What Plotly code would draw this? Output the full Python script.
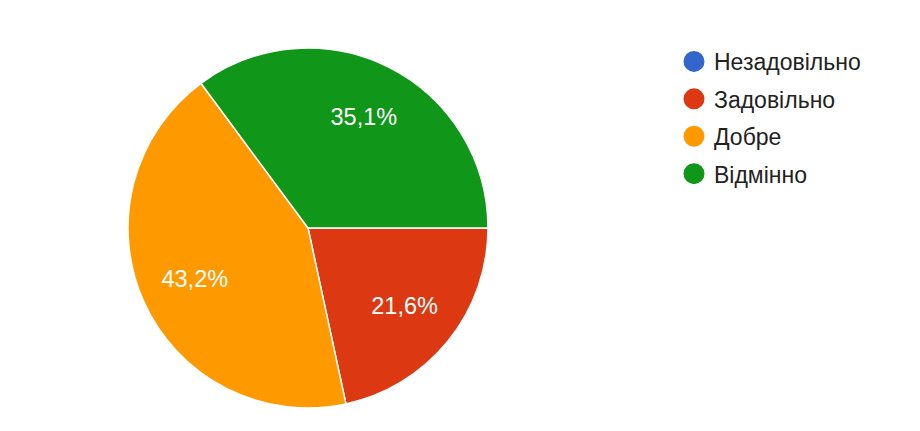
import plotly.graph_objects as go

categories = ["Незадовільно", "Задовільно", "Добре", "Відмінно"]
counts = [0, 8, 16, 13]
colors = ["#3366cc", "#dc3912", "#ff9900", "#109618"]

total = sum(counts)
labels_txt = [("%.1f%%" % (c / total * 100)).replace(".", ",") for c in counts]

W, H = 920, 431
FONT = "Arial, 'Liberation Sans', sans-serif"
dom = dict(x=[120 / W, 480 / W], y=[(H - 400) / H, (H - 40) / H])

fig = go.Figure()
fig.add_trace(go.Pie(
    labels=categories, values=counts,
    textinfo="none",
    marker=dict(colors=colors, line=dict(color="white", width=1.5)),
    sort=False, direction="clockwise", rotation=90,
    showlegend=False, hoverinfo="label+percent", domain=dom,
))
# label layer: transparent donut so that labels sit at ~0.68 of the radius
fig.add_trace(go.Pie(
    labels=categories, values=counts, text=labels_txt,
    textinfo="text", textposition="inside", insidetextorientation="horizontal",
    textfont=dict(color="white", size=23.5, family=FONT),
    marker=dict(colors=["rgba(0,0,0,0)"] * len(categories), line=dict(width=0)),
    sort=False, direction="clockwise", rotation=90, hole=0.38,
    showlegend=False, hoverinfo="skip", domain=dom,
))
for cat, col in zip(categories, colors):
    fig.add_trace(go.Scatter(
        x=[None], y=[None], mode="markers", name=cat,
        marker=dict(color=col, size=16, symbol="circle",
                    line=dict(color=col, width=5)),
        legendgroup=cat,
    ))

fig.update_layout(
    width=W, height=H, margin=dict(l=0, r=0, t=0, b=0),
    paper_bgcolor="white", plot_bgcolor="white",
    xaxis=dict(visible=False), yaxis=dict(visible=False),
    font=dict(family=FONT, color="#222222"),
    legend=dict(x=666 / W, y=1 - 32 / H, xanchor="left", yanchor="top",
                font=dict(size=23, color="#222222", family=FONT),
                tracegroupgap=4.5, itemwidth=30),
    shapes=[dict(type="rect", xref="paper", yref="paper", x0=0, x1=1,
                 y0=0, y1=2 / H, fillcolor="#f8f9fa", line=dict(width=0),
                 layer="below")],
)
fig.write_html("out.html")
